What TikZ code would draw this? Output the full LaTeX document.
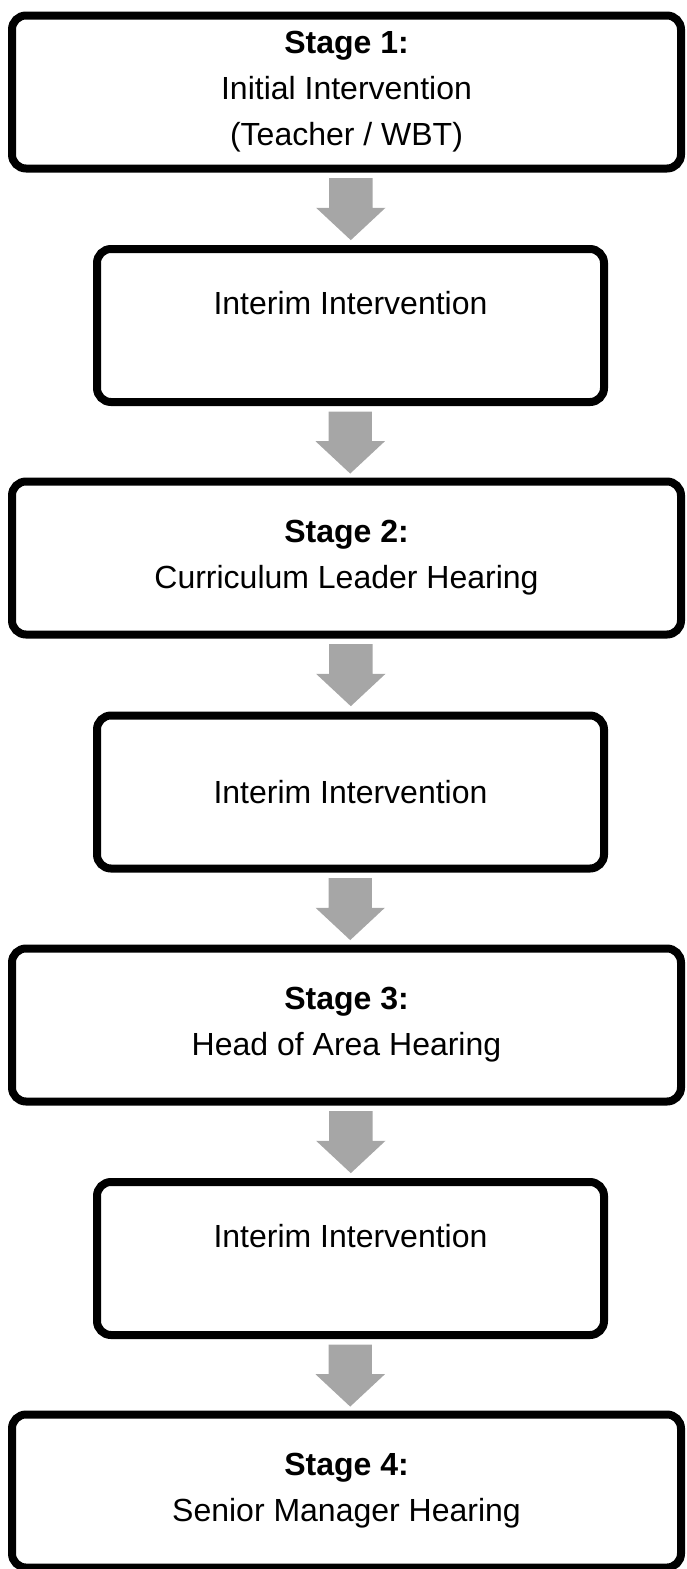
\documentclass[tikz,border=0pt]{standalone}
\usepackage{fontspec}
\setmainfont{Liberation Sans}
\usetikzlibrary{shapes.arrows,shadows,calc}
\definecolor{arrowgray}{HTML}{A6A6A6}
\tikzstyle{stage} = [draw, line width=8pt, rounded corners=14pt, fill=white, align=center,
    font=\fontsize{32}{46}\selectfont,
    drop shadow={shadow xshift=1.5pt, shadow yshift=-3pt, fill=black, opacity=.25}]
\tikzstyle{wide} = [stage, minimum width=669pt, minimum height=153pt]
\tikzstyle{narrow} = [stage, minimum width=507pt, minimum height=153pt]
\tikzstyle{down} = [single arrow, shape border rotate=270, fill=arrowgray, draw=none,
    minimum height=62pt, single arrow head extend=13pt, anchor=tail,
    single arrow tip angle=94, inner xsep=21.5pt, inner ysep=0pt]

\begin{document}
\begin{tikzpicture}[x=1pt,y=1pt]
    \useasboundingbox (0,0) rectangle (686,-1569);
    \node[wide] (S1) at (346.5,-92) {\textbf{Stage 1:}\\Initial Intervention\\(Teacher / WBT)};
    \node[narrow] (I1) at (350.5,-325.5) {Interim Intervention\\\mbox{}};
    \node[wide] (S2) at (346.5,-558) {\textbf{Stage 2:}\\Curriculum Leader Hearing};
    \node[narrow] (I2) at (350.5,-792) {Interim Intervention};
    \node[wide] (S3) at (346.5,-1025) {\textbf{Stage 3:}\\Head of Area Hearing};
    \node[narrow] (I3) at (350.5,-1258.5) {Interim Intervention\\\mbox{}};
    \node[wide] (S4) at (346.5,-1491) {\textbf{Stage 4:}\\Senior Manager Hearing};
    \node[down,xshift=4pt] (A1) at ($(S1.south)!.075!(I1.north)$) {};
    \node[down] (A2) at ($(I1.south)!.075!(S2.north)$) {};
    \node[down,xshift=4pt] (A3) at ($(S2.south)!.075!(I2.north)$) {};
    \node[down] (A4) at ($(I2.south)!.075!(S3.north)$) {};
    \node[down,xshift=4pt] (A5) at ($(S3.south)!.075!(I3.north)$) {};
    \node[down] (A6) at ($(I3.south)!.075!(S4.north)$) {};
\end{tikzpicture}
\end{document}
